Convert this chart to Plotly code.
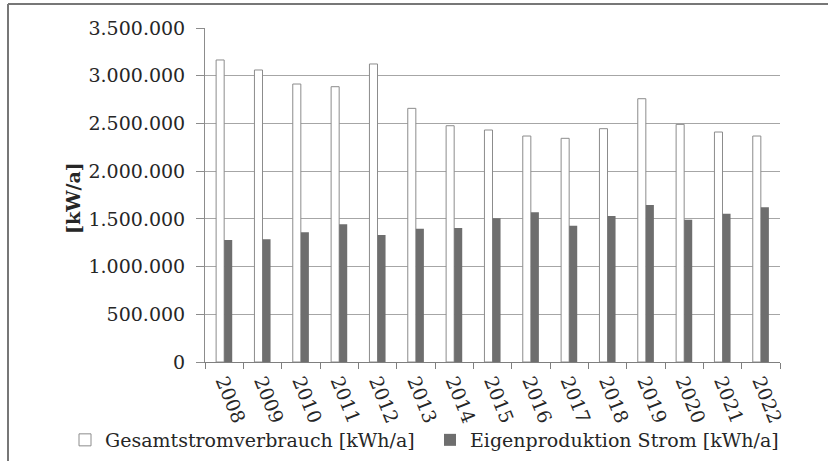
import plotly.graph_objects as go

years = ["2008", "2009", "2010", "2011", "2012", "2013", "2014", "2015",
         "2016", "2017", "2018", "2019", "2020", "2021", "2022"]
gesamt = [3165000, 3060000, 2913000, 2885000, 3123000, 2658000, 2476000, 2431000,
          2368000, 2344000, 2445000, 2759000, 2490000, 2410000, 2368000]
eigen = [1278000, 1285000, 1359000, 1443000, 1331000, 1397000, 1404000, 1506000,
         1568000, 1428000, 1530000, 1645000, 1491000, 1554000, 1621000]
y_ticks = [0, 500000, 1000000, 1500000, 2000000, 2500000, 3000000, 3500000]

W, H = 828, 461
L, R, T, B = 205, 48, 28, 99
pw, ph = W - L - R, H - T - B

def px_x(px):
    return (px - L) / pw

def px_y(py):
    return (H - B - py) / ph

FONT = "DejaVu Serif"
TXT = "#262626"
GRID = "#a6a6a6"

fig = go.Figure()
fig.add_trace(go.Bar(
    x=years, y=gesamt, name="Gesamtstromverbrauch [kWh/a]",
    marker=dict(color="white", line=dict(color="#8c8c8c", width=1)),
))
fig.add_trace(go.Bar(
    x=years, y=eigen, name="Eigenproduktion Strom [kWh/a]",
    marker=dict(color="#6e6e6e", line=dict(color="#6e6e6e", width=0)),
))

fig.update_layout(
    width=W, height=H,
    margin=dict(l=L, r=R, t=T, b=B, autoexpand=False),
    paper_bgcolor="white", plot_bgcolor="white",
    barmode="group", bargap=0.58, bargroupgap=0,
    separators=",.",
    font=dict(family=FONT, size=19, color=TXT),
    showlegend=True,
    legend=dict(
        orientation="h", x=px_x(65), y=px_y(421), xanchor="left", yanchor="top",
        font=dict(family=FONT, size=19, color=TXT),
        itemwidth=30, entrywidth=320, entrywidthmode="pixels",
        bgcolor="rgba(0,0,0,0)", traceorder="normal",
    ),
)

fig.update_xaxes(
    type="category", tickson="boundaries", ticks="outside", ticklen=6,
    tickcolor="#7f7f7f", showline=True, linecolor="#7f7f7f", linewidth=1,
    showgrid=False, tickangle=68, tickfont=dict(family=FONT, size=19, color=TXT),
)
fig.update_yaxes(
    range=[0, 3500000], tickvals=y_ticks, tickformat=",.0f",
    ticks="outside", ticklen=8, tickcolor="#8c8c8c",
    showline=True, linecolor="#8c8c8c", linewidth=1,
    showgrid=True, gridcolor=GRID, gridwidth=1, zeroline=False,
    ticklabelstandoff=7, tickfont=dict(family=FONT, size=19, color=TXT),
)

# y-axis title
fig.add_annotation(
    text="<b>[kW/a]</b>", xref="paper", yref="paper",
    x=px_x(73), y=px_y(198), textangle=-90, showarrow=False,
    font=dict(family=FONT, size=19, color=TXT), xanchor="center", yanchor="middle",
)

# outer frame (top and left edges)
fig.add_shape(type="line", xref="paper", yref="paper",
              x0=px_x(8), x1=px_x(W), y0=px_y(4), y1=px_y(4),
              line=dict(color="#777777", width=2))
fig.add_shape(type="line", xref="paper", yref="paper",
              x0=px_x(8), x1=px_x(8), y0=px_y(4), y1=px_y(H),
              line=dict(color="#777777", width=2))

fig.write_html("out.html")
